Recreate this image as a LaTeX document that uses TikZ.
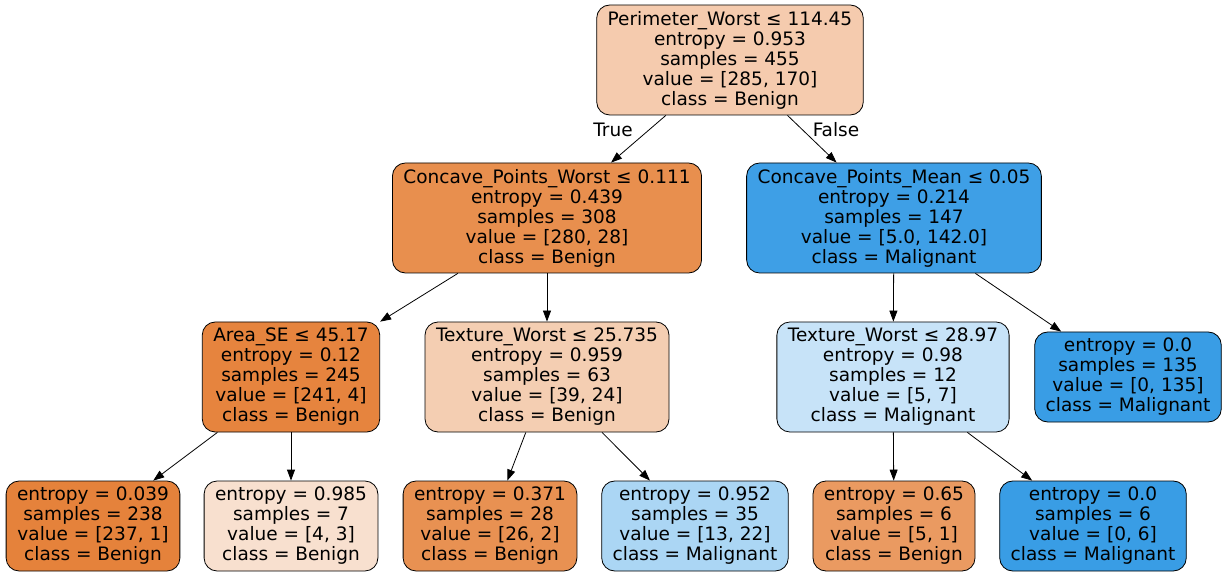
\documentclass[tikz,border=0pt]{standalone}
\usepackage{fontspec}
\setmainfont{DejaVu Sans}
\usetikzlibrary{arrows.meta}

\definecolor{c0}{HTML}{F5CBAE}
\definecolor{c1}{HTML}{E88F4E}
\definecolor{c2}{HTML}{3E9FE6}
\definecolor{c3}{HTML}{E6843E}
\definecolor{c4}{HTML}{F4CEB2}
\definecolor{c5}{HTML}{C7E3F8}
\definecolor{c6}{HTML}{399DE5}
\definecolor{c7}{HTML}{E5823B}
\definecolor{c8}{HTML}{F8E0CF}
\definecolor{c9}{HTML}{E89152}
\definecolor{c10}{HTML}{ABD6F4}
\definecolor{c11}{HTML}{EA9A61}

\begin{document}
\begin{tikzpicture}[
  x = 1pt, y = -1pt,
  every node/.style = {font = \fontsize{18.5}{20}\selectfont},
  split/.style = {draw, line width = 0.8pt, rounded corners = 13pt, align = center,
                  inner xsep = 11pt, inner ysep = 0pt, minimum height = 110pt},
  leaf/.style = {split, minimum height = 90pt},
  edge/.style = {-{Triangle[length = 11pt, width = 8pt]}, line width = 0.8pt},
  ]
  \useasboundingbox (0,0) rectangle (1227,577);
  % root
  \node[split, fill = c0] (root) at (730,60)
    {Perimeter\_Worst ≤ 114.45\\entropy = 0.953\\samples = 455\\value = [285, 170]\\class = Benign};
  % level 1
  \node[split, fill = c1] (cpw) at (547,218)
    {Concave\_Points\_Worst ≤ 0.111\\entropy = 0.439\\samples = 308\\value = [280, 28]\\class = Benign};
  \node[split, fill = c2] (cpm) at (894,218)
    {Concave\_Points\_Mean ≤ 0.05\\entropy = 0.214\\samples = 147\\value = [5.0, 142.0]\\class = Malignant};
  % level 2
  \node[split, fill = c3] (area) at (291,377)
    {Area\_SE ≤ 45.17\\entropy = 0.12\\samples = 245\\value = [241, 4]\\class = Benign};
  \node[split, fill = c4] (tw1) at (547,377)
    {Texture\_Worst ≤ 25.735\\entropy = 0.959\\samples = 63\\value = [39, 24]\\class = Benign};
  \node[split, fill = c5] (tw2) at (893,377)
    {Texture\_Worst ≤ 28.97\\entropy = 0.98\\samples = 12\\value = [5, 7]\\class = Malignant};
  \node[leaf, fill = c6] (l135) at (1128,377)
    {entropy = 0.0\\samples = 135\\value = [0, 135]\\class = Malignant};
  % level 3
  \node[leaf, fill = c7] (l238) at (93,526)
    {entropy = 0.039\\samples = 238\\value = [237, 1]\\class = Benign};
  \node[leaf, fill = c8] (l7) at (291,526)
    {entropy = 0.985\\samples = 7\\value = [4, 3]\\class = Benign};
  \node[leaf, fill = c9] (l28) at (490,526)
    {entropy = 0.371\\samples = 28\\value = [26, 2]\\class = Benign};
  \node[leaf, fill = c10] (l35) at (695,526)
    {entropy = 0.952\\samples = 35\\value = [13, 22]\\class = Malignant};
  \node[leaf, fill = c11] (l6a) at (894,526)
    {entropy = 0.65\\samples = 6\\value = [5, 1]\\class = Benign};
  \node[leaf, fill = c6] (l6b) at (1093,526)
    {entropy = 0.0\\samples = 6\\value = [0, 6]\\class = Malignant};
  % edges
  \draw[edge] (root) -- (cpw);
  \draw[edge] (root) -- (cpm);
  \draw[edge] (cpw) -- (area);
  \draw[edge] (cpw) -- (tw1);
  \draw[edge] (cpm) -- (tw2);
  \draw[edge] (cpm) -- (l135);
  \draw[edge] (area) -- (l238);
  \draw[edge] (area) -- (l7);
  \draw[edge] (tw1) -- (l28);
  \draw[edge] (tw1) -- (l35);
  \draw[edge] (tw2) -- (l6a);
  \draw[edge] (tw2) -- (l6b);
  \node (true) at (613,130) {True};
  \node (false) at (836,130) {False};
\end{tikzpicture}
\end{document}
